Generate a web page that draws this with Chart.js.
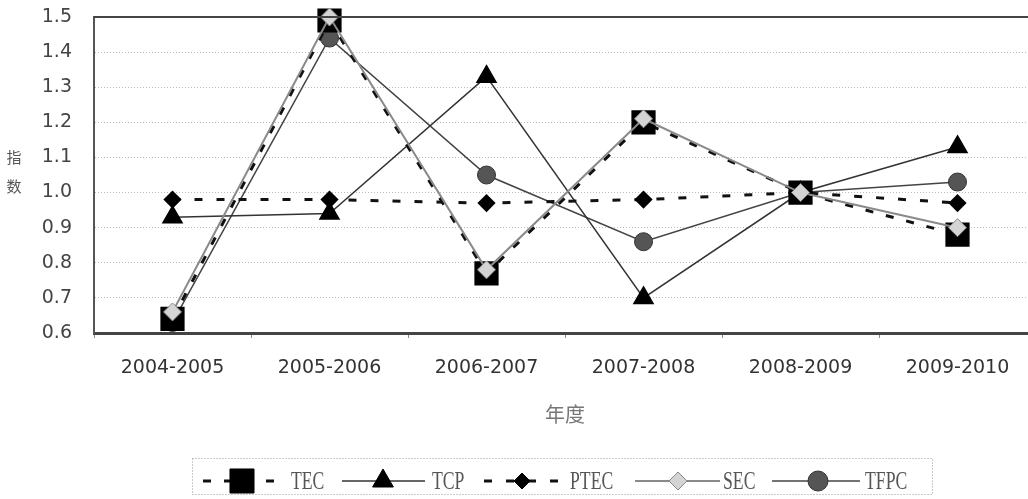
<!DOCTYPE html>
<html>
<head>
<meta charset="utf-8">
<script src="https://cdn.jsdelivr.net/npm/chart.js@4/dist/chart.umd.min.js"></script>
<style>
  html, body { margin: 0; padding: 0; background: #fff; overflow: hidden; }
</style>
</head>
<body>
<canvas id="myChart" width="1036" height="499"></canvas>
<script>
// data
const years = ['2004-2005', '2005-2006', '2006-2007', '2007-2008', '2008-2009', '2009-2010'];
const tec  = [0.64, 1.49, 0.77, 1.20, 1.00, 0.88];
const tcp  = [0.93, 0.94, 1.33, 0.70, 1.00, 1.13];
const ptec = [0.98, 0.98, 0.97, 0.98, 1.00, 0.97];
const sec  = [0.66, 1.50, 0.78, 1.21, 1.00, 0.90];
const tfpc = [0.63, 1.44, 1.05, 0.86, 1.00, 1.03];
const yTicks = [0.6, 0.7, 0.8, 0.9, 1.0, 1.1, 1.2, 1.3, 1.4, 1.5];
const xTitle = '年度';
const yTitle = ['指', '数'];

const dsList = [
    { label: 'TEC', data: tec, borderColor: '#111', borderWidth: 3, borderDash: [8, 13],
      pointStyle: 'rect', pointRadius: 15, pointBackgroundColor: '#000', pointBorderColor: '#000', order: 3 },
    { label: 'TCP', data: tcp, borderColor: '#333', borderWidth: 1.5,
      pointStyle: 'triangle', pointRadius: 11, pointBackgroundColor: '#000', pointBorderColor: '#000', order: 5 },
    { label: 'PTEC', data: ptec, borderColor: '#111', borderWidth: 3, borderDash: [8, 14],
      pointStyle: 'rectRot', pointRadius: 7, pointBackgroundColor: '#000', pointBorderColor: '#000', order: 4 },
    { label: 'SEC', data: sec, borderColor: '#8a8a8a', borderWidth: 2,
      pointStyle: 'rectRot', pointRadius: 9, pointBackgroundColor: '#d4d4d4', pointBorderColor: '#888', pointBorderWidth: 1, order: 1 },
    { label: 'TFPC', data: tfpc, borderColor: '#444', borderWidth: 1.5,
      pointStyle: 'circle', pointRadius: 9, pointBackgroundColor: '#555', pointBorderColor: '#333', pointBorderWidth: 1, order: 6 }
];

// titles, top border and the boxed legend under the chart
const extras = {
    id: 'extras',
    afterDraw(chart) {
        const ctx = chart.ctx;
        const a = chart.chartArea;
        ctx.save();
        // top border of plot area
        ctx.strokeStyle = '#444';
        ctx.lineWidth = 2;
        ctx.beginPath();
        ctx.moveTo(a.left, a.top);
        ctx.lineTo(a.right, a.top);
        ctx.stroke();

        ctx.fillStyle = '#777';
        ctx.textAlign = 'center';
        ctx.textBaseline = 'middle';
        ctx.font = '20px "Noto Sans CJK SC"';
        ctx.fillText(xTitle, 565, 414);
        ctx.font = '15px "Noto Sans CJK SC"';
        ctx.fillStyle = '#555';
        ctx.fillText(yTitle[0], 14, 157);
        ctx.fillText(yTitle[1], 14, 186);

        // legend box
        ctx.strokeStyle = '#999';
        ctx.lineWidth = 1;
        ctx.setLineDash([1, 2]);
        ctx.strokeRect(192.5, 458.5, 740, 36);

        const cy = 481;
        const items = [
            { ds: 0, x0: 203, x1: 284, px: 242, tx: 291, r: 17 },
            { ds: 1, x0: 342, x1: 425, px: 383, tx: 432, r: 12 },
            { ds: 2, x0: 484, x1: 565, px: 522, tx: 570, r: 8 },
            { ds: 3, x0: 635, x1: 720, px: 678, tx: 723, r: 9 },
            { ds: 4, x0: 772, x1: 860, px: 818, tx: 865, r: 10 }
        ];
        items.forEach(it => {
            const d = dsList[it.ds];
            ctx.strokeStyle = d.borderColor;
            ctx.lineWidth = d.borderWidth;
            ctx.setLineDash(d.borderDash || []);
            ctx.beginPath();
            ctx.moveTo(it.x0, cy);
            ctx.lineTo(it.x1, cy);
            ctx.stroke();
            ctx.setLineDash([]);
            ctx.fillStyle = d.pointBackgroundColor;
            ctx.strokeStyle = d.pointBorderColor;
            ctx.lineWidth = d.pointBorderWidth || 1;
            Chart.helpers.drawPoint(ctx, { pointStyle: d.pointStyle, radius: it.r, rotation: 0, borderWidth: 1 }, it.px, cy);
            // condensed serif label
            ctx.save();
            ctx.translate(it.tx, cy);
            ctx.scale(0.68, 1);
            ctx.fillStyle = '#555';
            ctx.textAlign = 'left';
            ctx.textBaseline = 'middle';
            ctx.font = '26px "Liberation Serif"';
            ctx.fillText(d.label, 0, 1);
            ctx.restore();
        });
        ctx.restore();
    }
};

var ctx = document.getElementById('myChart').getContext('2d');

var chart = new Chart(ctx, {
    type: 'line',
    data: {
        labels: years,
        datasets: dsList.map(d => Object.assign({ fill: false, tension: 0, clip: false }, d))
    },
    options: {
        responsive: false,
        animation: false,
        devicePixelRatio: 1,
        layout: { autoPadding: false, padding: { top: 17, right: 0, bottom: 0, left: 0 } },
        plugins: { legend: { display: false }, tooltip: { enabled: false } },
        scales: {
            x: {
                offset: true,
                grid: { display: true, drawOnChartArea: false, offset: true, tickLength: 5, color: '#888' },
                border: { display: true, color: '#444', width: 3 },
                ticks: {
                    padding: 19, color: '#333',
                    font: { family: '"DejaVu Sans"', size: 19 }
                },
                afterFit(scale) { scale.height = 166; }
            },
            y: {
                min: 0.6, max: 1.5,
                afterBuildTicks(scale) { scale.ticks = yTicks.map(v => ({ value: v })); },
                // invisible tick marks just make room between labels and axis
                grid: { color: '#bbb', lineWidth: 1, drawTicks: true, tickLength: 22, tickColor: 'rgba(0,0,0,0)' },
                border: { display: true, color: '#555', width: 2, dash: [1, 2] },
                ticks: {
                    padding: 0, color: '#444',
                    font: { family: '"DejaVu Sans"', size: 19 },
                    callback: v => Number(v).toFixed(1)
                },
                afterFit(scale) { scale.width = 94; }
            }
        }
    },
    plugins: [extras]
});
</script>
</body>
</html>
